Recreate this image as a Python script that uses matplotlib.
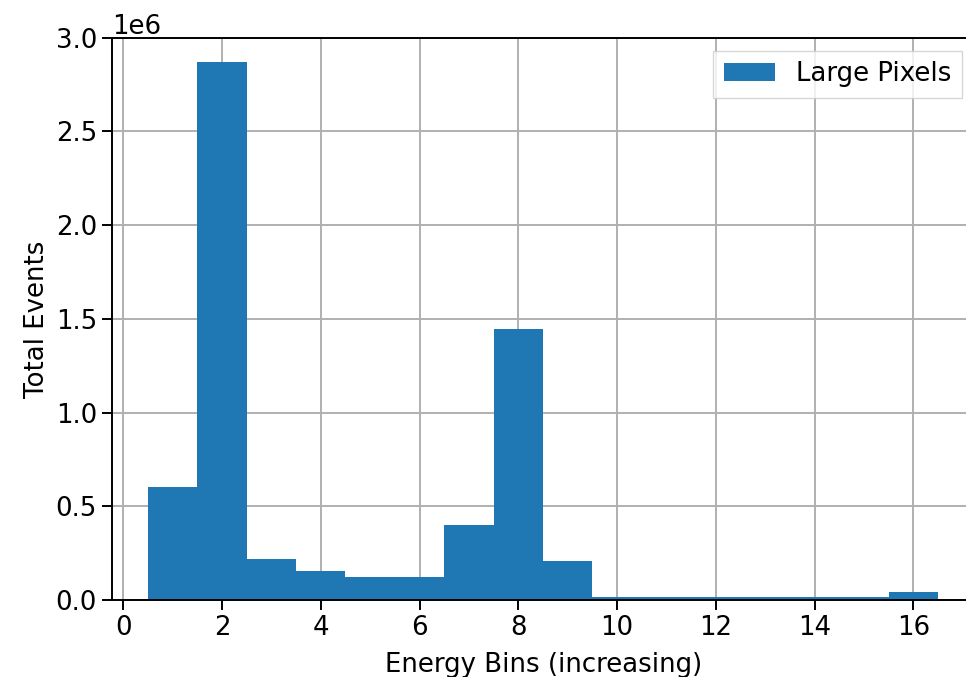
import matplotlib
matplotlib.use("Agg")
import matplotlib.pyplot as plt

# energy bin index and event counts
energy_bins = [1, 2, 3, 4, 5, 6, 7, 8, 9, 10, 11, 12, 13, 14, 15, 16]
total_events = [0.602e6, 2.87e6, 0.218e6, 0.153e6, 0.123e6, 0.123e6, 0.40e6, 1.445e6,
                0.206e6, 0.015e6, 0.015e6, 0.015e6, 0.015e6, 0.015e6, 0.015e6, 0.045e6]

plt.rcParams["font.family"] = "DejaVu Sans"
plt.rcParams["font.size"] = 18.7

fig = plt.figure(figsize=(9.66, 6.77), dpi=100)
# axes runs slightly past the right edge (the original was cropped)
ax = fig.add_axes([0.1156, 0.1137, 0.8937, 0.8305])

ax.bar(energy_bins, total_events, width=1.0, color="#1f77b4", label="Large Pixels", zorder=2)
ax.grid(True, color="#b0b0b0", linewidth=1.4, zorder=0)
for line in ax.get_xgridlines() + ax.get_ygridlines():
    line.set_zorder(3)

ax.set_xlim(-0.235, 17.25)
ax.set_ylim(0, 3.0e6)
ax.set_xticks([0, 2, 4, 6, 8, 10, 12, 14, 16])
ax.set_yticks([0, 0.5e6, 1.0e6, 1.5e6, 2.0e6, 2.5e6, 3.0e6])
ax.tick_params(length=7, width=1.4)
for s in ax.spines.values():
    s.set_linewidth(1.4)

ax.set_xlabel("Energy Bins (increasing)", labelpad=8)
ax.set_ylabel("Total Events")
ax.legend(loc="upper right", fancybox=False, edgecolor="#cccccc")

fig.savefig("out.png", dpi=100)
